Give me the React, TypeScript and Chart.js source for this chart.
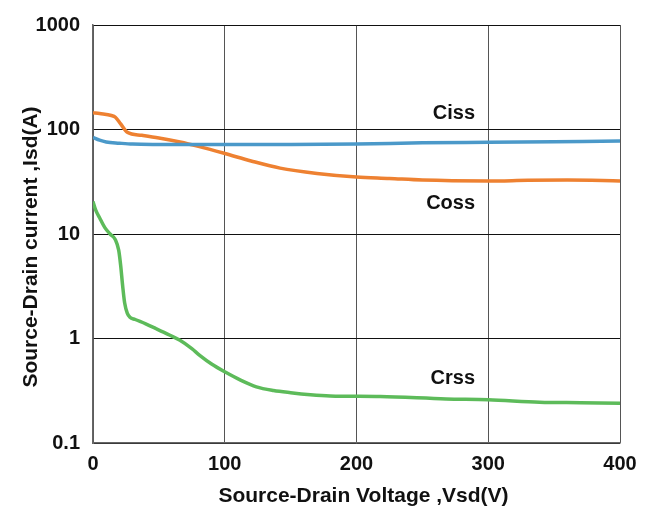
import React, { useEffect, useRef } from "react";
import { Chart, registerables } from "chart.js";

Chart.register(...registerables);

// Capacitance-style curves vs. source-drain voltage
const cissV = [0, 5, 10, 20, 30, 50, 100, 150, 200, 250, 300, 350, 400];
const cissI = [84, 79, 76, 74, 72.5, 72, 71.7, 71.7, 72.5, 74.5, 75.5, 76.5, 77.5];

const cossV = [0, 5, 14, 17, 21, 26, 37, 50, 66, 80, 100, 120, 142, 170, 200, 225, 250, 300, 330, 360, 400];
const cossI = [145, 142, 136, 131, 113, 94, 88, 83, 76, 69, 59, 50, 42.7, 38, 35.1, 34, 32.8, 32.2, 32.6, 32.8, 32.2];

const crssV = [0, 2, 5, 9, 13, 17, 19.5, 21, 22.5, 24, 26, 28, 32, 40, 48, 58, 66, 75, 81, 90, 100, 112, 124, 137, 150, 165, 180, 218, 268, 300, 339, 370, 400];
const crssI = [20.5, 17, 14.3, 11.5, 10, 8.8, 7, 5, 3.2, 2.2, 1.75, 1.6, 1.52, 1.38, 1.24, 1.08, 0.96, 0.8, 0.69, 0.57, 0.48, 0.4, 0.345, 0.318, 0.303, 0.29, 0.282, 0.278, 0.264, 0.259, 0.246, 0.243, 0.24];

const yTicks = [0.1, 1, 10, 100, 1000];
const xTicks = [0, 100, 200, 300, 400];

// Curve names, placed in data coordinates (right-aligned)
const curveNames = ["Ciss", "Coss", "Crss"];
const nameV = [290, 290, 290];
const nameI = [142, 19.5, 0.417];

const xTitle = "Source-Drain Voltage ,Vsd(V)";
const yTitle = "Source-Drain current ,Isd(A)";

const FONT = "'Liberation Sans', Arial, sans-serif";

const toPoints = (xs: number[], ys: number[]) => xs.map((x, i) => ({ x, y: ys[i] }));

const textPlugin = {
  id: "curveText",
  afterDraw(chart: any) {
    const ctx = chart.ctx;
    const xs = chart.scales.x;
    const ys = chart.scales.y;
    const area = chart.chartArea;
    ctx.save();
    ctx.fillStyle = "#111";
    ctx.font = `bold 20px ${FONT}`;
    ctx.textAlign = "right";
    ctx.textBaseline = "middle";
    curveNames.forEach((n, i) => {
      ctx.fillText(n, xs.getPixelForValue(nameV[i]), ys.getPixelForValue(nameI[i]));
    });
    // axis titles
    ctx.font = `bold 21px ${FONT}`;
    ctx.textAlign = "center";
    ctx.fillText(xTitle, (area.left + area.right) / 2 + 7, area.bottom + 53);
    ctx.translate(31, (area.top + area.bottom) / 2 + 13);
    ctx.rotate(-Math.PI / 2);
    ctx.fillText(yTitle, 0, 0);
    ctx.restore();
  },
};

export default function App() {
  const ref = useRef<HTMLCanvasElement>(null);

  useEffect(() => {
    if (!ref.current) return;
    const line = { borderWidth: 3.5, pointRadius: 0, cubicInterpolationMode: "monotone" as const, fill: false };
    const chart = new Chart(ref.current, {
      type: "line",
      data: {
        datasets: [
          { label: "Ciss", data: toPoints(cissV, cissI), borderColor: "#4B99C9", ...line },
          { label: "Coss", data: toPoints(cossV, cossI), borderColor: "#EE8131", ...line },
          { label: "Crss", data: toPoints(crssV, crssI), borderColor: "#5DBB5A", ...line },
        ],
      },
      options: {
        animation: false,
        responsive: false,
        layout: { padding: { top: 21, right: 31, left: 0, bottom: 0 } },
        plugins: { legend: { display: false }, tooltip: { enabled: false } },
        scales: {
          x: {
            type: "linear",
            min: 0,
            max: 400,
            afterBuildTicks: (s: any) => {
              s.ticks = xTicks.map((v) => ({ value: v }));
            },
            afterFit: (s: any) => {
              s.height = 68;
            },
            ticks: {
              padding: 9,
              color: "#111",
              font: { family: FONT, size: 20, weight: "bold" },
            },
            grid: { color: "#555", lineWidth: 1, drawTicks: false },
            border: { color: "#666", width: 1.5 },
          },
          y: {
            type: "logarithmic",
            min: 0.1,
            max: 1000,
            afterBuildTicks: (s: any) => {
              s.ticks = yTicks.map((v) => ({ value: v }));
            },
            afterFit: (s: any) => {
              s.width = 93;
            },
            ticks: {
              padding: 13,
              color: "#111",
              font: { family: FONT, size: 20, weight: "bold" },
              callback: (v: any) => String(v),
            },
            grid: { color: "#111", lineWidth: 1, drawTicks: false },
            border: { color: "#666", width: 1.5 },
          },
        },
      },
      plugins: [textPlugin],
    });
    return () => chart.destroy();
  }, []);

  return (
    <div style={{ position: "fixed", left: 0, top: 0, width: 651, height: 511, background: "#fff" }}>
      <canvas ref={ref} width={651} height={511} style={{ width: 651, height: 511 }} />
    </div>
  );
}
